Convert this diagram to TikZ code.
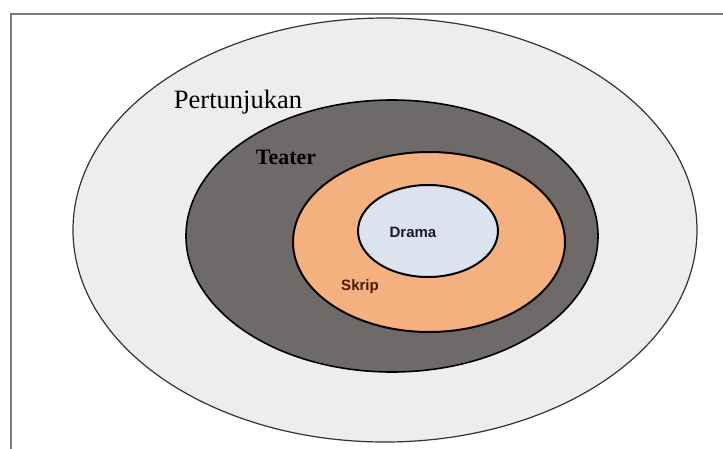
\documentclass[tikz,border=0pt]{standalone}
\usepackage{fontspec}
\setmainfont{Liberation Serif}
\setsansfont{Liberation Sans}
\usepackage{tikz}
\definecolor{frame}{RGB}{122, 122, 122}
\definecolor{pale}{RGB}{237, 237, 237}
\definecolor{slate}{RGB}{110, 106, 106}
\definecolor{peach}{RGB}{244, 176, 126}
\definecolor{mist}{RGB}{220, 227, 238}
\definecolor{ink}{RGB}{26, 26, 40}
\definecolor{rust}{RGB}{74, 26, 10}

\begin{document}
\begin{tikzpicture}[x=1pt, y=-1pt]
  \useasboundingbox (0, 0) rectangle (723, 448);
  \fill[white] (0, 0) rectangle (723, 448);

  \draw[frame, line width=2] (11, 14) rectangle (740, 470);

  % rings, from the outside in
  \fill[pale] (385, 230) ellipse [x radius=312, y radius=212];
  \draw[black!80, line width=1.2] (385, 230) ellipse [x radius=312, y radius=212];

  \fill[slate] (392, 236) ellipse [x radius=206, y radius=136];
  \draw[black, line width=1.6] (392, 236) ellipse [x radius=206, y radius=136];

  \fill[peach] (429, 242) ellipse [x radius=136, y radius=90];
  \draw[black!85!rust, line width=2] (429, 242) ellipse [x radius=136, y radius=90];

  \fill[mist] (428, 231) ellipse [x radius=70, y radius=46];
  \draw[black, line width=2] (428, 231) ellipse [x radius=70, y radius=46];

  % labels
  \node (pertunjukan) at (238, 102) {\fontsize{26.5}{30}\selectfont Pertunjukan};
  \node (teater) at (286, 157) {\fontsize{22}{26}\selectfont\bfseries Teater};
  \node[ink] (drama) at (413, 232) {\sffamily\bfseries\fontsize{15}{17}\selectfont Drama};
  \node[rust] (skrip) at (360, 287) {\sffamily\bfseries\fontsize{15}{17}\selectfont Skrip};

\end{tikzpicture}
\end{document}
